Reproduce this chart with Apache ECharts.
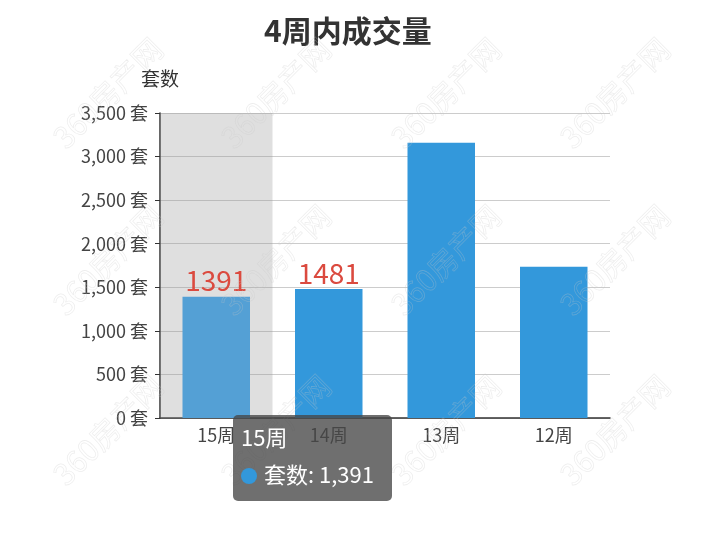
<!DOCTYPE html>
<html>
<head>
<meta charset="utf-8">
<script src="https://cdn.jsdelivr.net/npm/echarts@6/dist/echarts.min.js"></script>
<style>html,body{margin:0;padding:0;background:#fff}#c{width:720px;height:539px}</style>
</head>
<body>
<div id="c"></div>
<script>
var categories = ['15周', '14周', '13周', '12周'];
var values = [1391, 1481, 3160, 1735];
var labeledCount = 2; // only first two bars carry value labels
var yTicks = [0, 500, 1000, 1500, 2000, 2500, 3000, 3500];
var seriesName = '套数';
var unit = '套';
var titleText = '4周内成交量';
var watermarkText = '360房产网';

var FONT = '"Noto Sans CJK SC", "Microsoft YaHei", sans-serif';
var chart = echarts.init(document.getElementById('c'));

var barData = values.map(function (v, i) {
  var d = { value: v };
  if (i === 0) d.itemStyle = { color: '#54a0d5' };
  if (i >= labeledCount) d.label = { show: false };
  return d;
});

var wmCols = [108, 276, 446, 615];
var wmRows = [93, 260, 430];
var graphics = [];
wmRows.forEach(function (y) {
  wmCols.forEach(function (x) {
    graphics.push({
      type: 'text', x: x, y: y, rotation: Math.PI / 4, z: 200, silent: true,
      style: {
        text: watermarkText, fontSize: 30, fontFamily: FONT,
        fill: 'rgba(255,255,255,0)', stroke: 'rgba(200,200,200,0.32)', lineWidth: 0.7,
        align: 'center', verticalAlign: 'middle'
      }
    });
  });
});

function fmt(n) { return n.toString().replace(/\B(?=(\d{3})+(?!\d))/g, ','); }

chart.setOption({
  animation: false,
  title: {
    text: titleText, left: 259, top: 11,
    textStyle: { fontSize: 30, fontWeight: 'bold', color: '#333', fontFamily: FONT }
  },
  tooltip: {
    trigger: 'axis',
    axisPointer: { type: 'shadow', z: 1, shadowStyle: { color: 'rgba(150,150,150,0.3)' } },
    alwaysShowContent: true,
    transitionDuration: 0,
    position: [233, 415],
    backgroundColor: 'rgba(70,70,70,0.78)',
    borderWidth: 0,
    borderRadius: 5,
    padding: [5, 18, 7, 8],
    extraCssText: 'box-shadow:none;',
    textStyle: { color: '#fff', fontSize: 22, fontFamily: FONT },
    formatter: function (params) {
      var p = params[0];
      return '<div style="font-size:22px;line-height:32px;color:#fff">' + p.name + '</div>' +
        '<div style="font-size:22px;line-height:42px;color:#fff">' +
        '<span style="display:inline-block;width:16px;height:16px;border-radius:8px;background:#3398DB;margin-right:7px;vertical-align:-1px"></span>' +
        p.seriesName + ': ' + fmt(p.value) + '</div>';
    }
  },
  grid: { left: 160, right: 110, top: 113, bottom: 121 },
  xAxis: {
    type: 'category',
    data: categories,
    axisTick: { alignWithLabel: true, length: 5, lineStyle: { color: '#333' } },
    axisLine: { lineStyle: { color: '#333', width: 1.5 } },
    axisLabel: { color: '#444', fontSize: 18, fontFamily: FONT, margin: 8 }
  },
  yAxis: {
    type: 'value',
    name: seriesName,
    nameGap: 25,
    nameTextStyle: { color: '#333', fontSize: 19, fontFamily: FONT, align: 'center' },
    min: yTicks[0], max: yTicks[yTicks.length - 1], interval: yTicks[1] - yTicks[0],
    axisLine: { show: true, lineStyle: { color: '#333', width: 1.5 } },
    axisTick: { show: true, length: 5, lineStyle: { color: '#333' } },
    splitLine: { lineStyle: { color: '#ccc', width: 1 } },
    axisLabel: {
      color: '#444', fontSize: 18, fontFamily: FONT, margin: 12,
      formatter: function (v) { return fmt(v) + ' ' + unit; }
    }
  },
  series: [{
    name: seriesName,
    type: 'bar',
    z: 60,
    barWidth: '60%',
    data: barData,
    emphasis: { disabled: true },
    itemStyle: { color: '#3398DB' },
    label: {
      show: true, position: 'top', distance: 2,
      color: '#db4a3f', fontSize: 28, fontFamily: FONT
    }
  }],
  graphic: graphics
});

chart.dispatchAction({ type: 'showTip', seriesIndex: 0, dataIndex: 0 });
</script>
</body>
</html>
